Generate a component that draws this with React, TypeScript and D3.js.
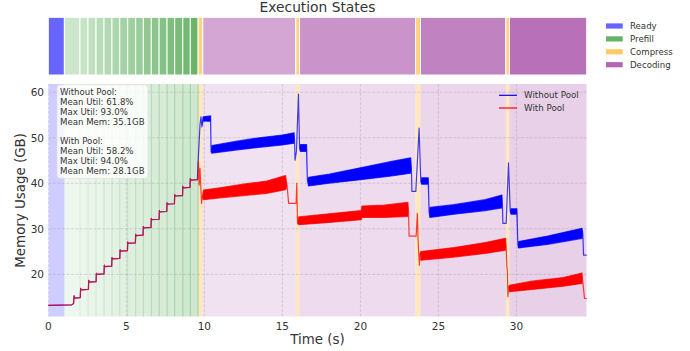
import React from "react";
import * as d3 from "d3";

// ---------- data ----------
const stateNames = ["Ready", "Prefill", "Compress", "Decoding"];
const stateColors = ["#0000ff", "#008000", "#ffa500", "#800080"];

// execution segments (seconds)
const segmentState = [
  "Ready",
  "Prefill", "Prefill", "Prefill", "Prefill", "Prefill", "Prefill", "Prefill", "Prefill",
  "Prefill", "Prefill", "Prefill", "Prefill", "Prefill", "Prefill", "Prefill", "Prefill",
  "Compress", "Decoding", "Compress", "Decoding", "Compress", "Decoding", "Compress", "Decoding",
];
const segmentStart = [
  0,
  1.03, 2.03, 2.54, 3.06, 3.57, 4.08, 4.58, 5.09, 5.6, 6.09, 6.6, 7.1, 7.61, 8.1, 8.62, 9.1,
  9.6, 9.9, 15.86, 16.1, 23.53, 23.85, 29.32, 29.55,
];
const segmentEnd = [
  1.03,
  2.03, 2.54, 3.06, 3.57, 4.08, 4.58, 5.09, 5.6, 6.09, 6.6, 7.1, 7.61, 8.1, 8.62, 9.1, 9.6,
  9.9, 15.86, 16.1, 23.53, 23.85, 29.32, 29.55, 34.5,
];

// memory traces: [time, low, high]  (low == high where the trace is a single line)
const prefillRamp: number[][] = [
  [0, 13.2], [1.5, 13.3], [1.62, 13.6], [1.65, 15.3], [1.7, 14.8], [2.05, 14.9],
  [2.07, 16.9], [2.1, 16.6], [2.57, 16.7], [2.59, 18.7], [2.62, 18.3], [3.06, 18.4],
  [3.08, 20.2], [3.11, 20.0], [3.57, 20.1], [3.59, 22.0], [3.62, 21.7], [4.06, 21.8],
  [4.08, 23.7], [4.11, 23.4], [4.58, 23.5], [4.6, 25.4], [4.63, 25.1], [5.07, 25.2],
  [5.09, 27.1], [5.12, 26.8], [5.58, 26.9], [5.6, 28.8], [5.63, 28.5], [6.07, 28.6],
  [6.09, 30.5], [6.12, 30.2], [6.58, 30.3], [6.6, 32.3], [6.63, 32.0], [7.1, 32.1],
  [7.12, 34.0], [7.15, 33.7], [7.59, 33.8], [7.61, 35.7], [7.64, 35.4], [8.08, 35.5],
  [8.1, 37.5], [8.13, 37.2], [8.6, 37.3], [8.62, 39.3], [8.65, 39.0], [9.08, 39.1],
  [9.1, 41.0], [9.13, 40.7], [9.55, 40.8],
];

const withoutPoolRest: number[][] = [
  [9.58, 43.3], [9.72, 52.8], [9.78, 54.6], [9.84, 52.4], [9.92, 53.7, 54.6],
  [10.4, 53.6, 54.8], [10.43, 46.9], [10.48, 46.6, 48.3], [12.0, 47.3, 49.2],
  [13.5, 47.9, 50.0], [15.0, 48.4, 50.6], [15.75, 48.8, 51.1], [15.78, 49.5],
  [15.81, 45.1], [15.9, 47.0], [16.03, 59.6], [16.1, 47.7], [16.15, 47.0, 48.5],
  [16.55, 47.0, 48.5], [16.6, 40.7], [16.68, 39.4, 41.3], [18.0, 40.0, 42.0],
  [20.0, 40.8, 43.4], [22.0, 41.6, 44.8], [23.22, 42.2, 45.6], [23.27, 43.0],
  [23.3, 38.2], [23.55, 38.2], [23.76, 52.1], [23.87, 40.4], [23.92, 39.8, 41.2],
  [24.35, 39.8, 41.2], [24.4, 33.8], [24.45, 32.5, 34.7], [26.0, 33.2, 35.3],
  [28.0, 34.0, 36.4], [29.07, 34.6, 37.4], [29.1, 35.0], [29.13, 31.2],
  [29.34, 31.2], [29.49, 44.5], [29.6, 33.8], [29.65, 33.2, 34.4],
  [30.03, 33.2, 34.4], [30.09, 26.4], [30.13, 25.8, 27.2], [32.0, 26.6, 28.4],
  [34.2, 27.9, 30.1], [34.25, 29.0], [34.3, 24.2], [34.5, 24.2],
];

const withPoolRest: number[][] = [
  [9.6, 41.0], [9.62, 44.7], [9.67, 39.6], [9.72, 43.3], [9.82, 35.6], [9.87, 37.0],
  [9.95, 36.4, 38.5], [11.0, 36.8, 39.0], [12.5, 37.3, 39.8], [14.0, 37.8, 40.5],
  [15.2, 38.6, 41.7], [15.3, 39.5], [15.4, 35.6], [15.88, 35.6], [15.92, 40.0],
  [15.97, 31.2], [16.05, 30.9, 32.6], [18.0, 31.4, 33.3], [20.05, 32.0, 34.0],
  [20.1, 32.5, 35.0], [21.5, 32.5, 35.2], [23.04, 32.7, 35.8], [23.08, 34.0],
  [23.12, 28.4], [23.57, 28.4], [23.65, 33.4], [23.7, 27.0], [23.78, 22.0],
  [23.82, 24.5], [23.88, 23.1, 25.0], [26.0, 23.8, 25.9], [28.0, 24.6, 27.0],
  [29.3, 25.3, 27.9], [29.34, 26.0], [29.38, 22.0], [29.42, 20.5], [29.45, 15.1],
  [29.5, 17.2], [29.55, 16.2, 17.6], [31.0, 16.7, 18.5], [33.0, 17.4, 19.3],
  [34.2, 18.0, 20.3], [34.23, 19.0], [34.36, 14.7], [34.5, 14.7],
];

const withoutPool = [...prefillRamp, ...withoutPoolRest];
const withPool = [...prefillRamp, ...withPoolRest];

const seriesNames = ["Without Pool", "With Pool"];
const seriesColors = ["#0000ff", "#ff0000"];

const statsLines = [
  "Without Pool:",
  "Mean Util: 61.8%",
  "Max Util: 93.0%",
  "Mean Mem: 35.1GB",
  "",
  "With Pool:",
  "Mean Util: 58.2%",
  "Max Util: 94.0%",
  "Mean Mem: 28.1GB",
];

const xTicks = [0, 5, 10, 15, 20, 25, 30];
const yTicks = [20, 30, 40, 50, 60];
const xDomain = [0, 34.5];
const yDomain = [10.7, 61.8];

// ---------- layout ----------
const W = 690;
const H = 351;
const mainL = 48.3, mainR = 586.7, mainT = 84, mainB = 316.7;
const topT = 17.3, topB = 75;
const FONT = "DejaVu Sans, sans-serif";
const TEXT = "#333333";

export default function App() {
  const x = d3.scaleLinear().domain(xDomain).range([mainL, mainR]);
  const y = d3.scaleLinear().domain(yDomain).range([mainB, mainT]);

  // per-segment alpha (progress within state)
  const counts: Record<string, number> = {};
  segmentState.forEach((s) => (counts[s] = (counts[s] || 0) + 1));
  const seen: Record<string, number> = {};
  const segAlpha = segmentState.map((s) => {
    const i = seen[s] || 0;
    seen[s] = i + 1;
    if (s === "Prefill") return 0.2 + (0.38 * i) / (counts[s] - 1);
    if (s === "Decoding") return 0.35 + 0.07 * i;
    if (s === "Compress") return 0.5;
    return 0.6;
  });
  const colorOf = (s: string) => stateColors[stateNames.indexOf(s)];

  const area = d3
    .area<number[]>()
    .x((d) => x(d[0]))
    .y0((d) => y(d[1]))
    .y1((d) => y(d.length > 2 ? d[2] : d[1]));

  return (
    <svg
      width={W}
      height={H}
      style={{ position: "absolute", left: 0, top: 0, background: "#fff" }}
      fontFamily={FONT}
    >
      <defs>
        <clipPath id="plotClip">
          <rect x={mainL} y={mainT} width={mainR - mainL} height={mainB - mainT} />
        </clipPath>
      </defs>

      {/* title */}
      <text x={(mainL + mainR) / 2} y={11.7} textAnchor="middle" fontSize={13.8} fill={TEXT}>
        Execution States
      </text>

      {/* top state bar */}
      {segmentState.map((s, i) => (
        <rect
          key={"top" + i}
          x={x(segmentStart[i])}
          y={topT}
          width={x(segmentEnd[i]) - x(segmentStart[i])}
          height={topB - topT}
          fill={colorOf(s)}
          fillOpacity={segAlpha[i]}
          stroke="#fff"
          strokeWidth={1}
        />
      ))}

      {/* state legend */}
      {stateNames.map((s, i) => (
        <g key={"sl" + i}>
          <rect x={606} y={26 + i * 12.9 - 2.6} width={16.7} height={5.2} fill={stateColors[i]} fillOpacity={0.6} />
          <text x={630} y={26 + i * 12.9} dominantBaseline="central" fontSize={8.6} fill={TEXT}>
            {s}
          </text>
        </g>
      ))}

      {/* main background spans */}
      <g clipPath="url(#plotClip)">
        {segmentState.map((s, i) => (
          <rect
            key={"bg" + i}
            x={x(segmentStart[i])}
            y={mainT}
            width={x(segmentEnd[i]) - x(segmentStart[i])}
            height={mainB - mainT}
            fill={colorOf(s)}
            fillOpacity={s === "Compress" ? 0.25 : segAlpha[i] * 0.33}
          />
        ))}
        {segmentState.map((s, i) =>
          s === "Prefill" ? (
            <line
              key={"pl" + i}
              x1={x(segmentEnd[i])}
              x2={x(segmentEnd[i])}
              y1={mainT}
              y2={mainB}
              stroke="#008000"
              strokeOpacity={segAlpha[i] * 0.45}
              strokeWidth={1}
            />
          ) : null
        )}

        {/* grid */}
        {xTicks.map((t) => (
          <line
            key={"gx" + t}
            x1={x(t)}
            x2={x(t)}
            y1={mainT}
            y2={mainB}
            stroke="#9a9a9a"
            strokeOpacity={0.45}
            strokeWidth={0.8}
            strokeDasharray="3,1.5"
          />
        ))}
        {yTicks.map((t) => (
          <line
            key={"gy" + t}
            x1={mainL}
            x2={mainR}
            y1={y(t)}
            y2={y(t)}
            stroke="#9a9a9a"
            strokeOpacity={0.45}
            strokeWidth={0.8}
            strokeDasharray="3,1.5"
          />
        ))}

        {/* traces */}
        {[withoutPool, withPool].map((data, k) => (
          <path
            key={"s" + k}
            d={area(data) || ""}
            fill={seriesColors[k]}
            stroke={seriesColors[k]}
            strokeOpacity={0.75}
            strokeWidth={1.2}
            strokeLinejoin="round"
          />
        ))}
      </g>

      {/* tick labels */}
      {xTicks.map((t) => (
        <text key={"xt" + t} x={x(t)} y={325.5} textAnchor="middle" dominantBaseline="central" fontSize={10.5} fill={TEXT}>
          {t}
        </text>
      ))}
      {yTicks.map((t) => (
        <text key={"yt" + t} x={44} y={y(t)} textAnchor="end" dominantBaseline="central" fontSize={10.5} fill={TEXT}>
          {t}
        </text>
      ))}

      {/* axis labels */}
      <text x={(mainL + mainR) / 2} y={339.5} textAnchor="middle" dominantBaseline="central" fontSize={13.4} fill={TEXT}>
        Time (s)
      </text>
      <text
        transform={`translate(20,${(mainT + mainB) / 2}) rotate(-90)`}
        textAnchor="middle"
        dominantBaseline="central"
        fontSize={13.4}
        fill={TEXT}
      >
        Memory Usage (GB)
      </text>

      {/* stats box */}
      <rect x={57} y={84.8} width={91} height={93.5} rx={3} fill="#fff" fillOpacity={0.8} stroke="#dddddd" strokeOpacity={0.8} strokeWidth={0.8} />
      {statsLines.map((s, i) => (
        <text key={"st" + i} x={60} y={92.3 + i * 9.8} dominantBaseline="central" fontSize={8.6} fill={TEXT}>
          {s}
        </text>
      ))}

      {/* series legend */}
      {seriesNames.map((s, i) => (
        <g key={"lg" + i}>
          <line x1={499} x2={517} y1={95.3 + i * 12.7} y2={95.3 + i * 12.7} stroke={seriesColors[i]} strokeWidth={1.2} />
          <text x={524} y={95.3 + i * 12.7} dominantBaseline="central" fontSize={8.7} fill={TEXT}>
            {s}
          </text>
        </g>
      ))}
    </svg>
  );
}
